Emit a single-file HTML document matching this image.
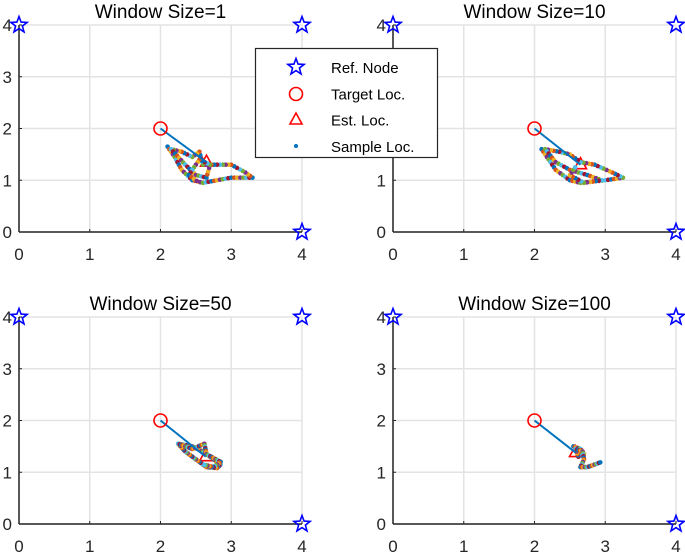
<!DOCTYPE html>
<html><head><meta charset="utf-8"><style>
body{margin:0;background:#fff;}
svg{display:block;font-family:"Liberation Sans",Arial,sans-serif;}
</style></head><body>
<svg id="c" width="685" height="554" xmlns="http://www.w3.org/2000/svg"></svg>
<script>
const titles=["Window Size=1","Window Size=10","Window Size=50","Window Size=100"];
const ticks=[0,1,2,3,4];
const refNodes=[[0,4],[4,4],[4,0]];
const target=[2,2];
const estimates=[[2.65,1.35],[2.65,1.3],[2.64,1.3],[2.58,1.38]];
const path1=[[2.1,1.65],[2.2,1.45],[2.3,1.2],[2.45,1.0],[2.6,0.95],[2.8,1.0],[3.0,1.05],[3.3,1.05],[3.2,1.15],[3.0,1.3],[2.8,1.3],[2.6,1.3],[2.55,1.55],[2.45,1.45],[2.3,1.55],[2.15,1.6],[2.35,1.3],[2.5,1.1],[2.65,1.05],[2.7,1.3],[2.55,1.4],[2.4,1.1],[2.55,0.95]];
const path2=[[2.1,1.6],[2.2,1.4],[2.3,1.2],[2.5,1.0],[2.65,0.95],[3.0,1.0],[3.25,1.05],[3.1,1.15],[2.85,1.3],[2.65,1.35],[2.5,1.5],[2.35,1.55],[2.15,1.6],[2.3,1.35],[2.5,1.2],[2.75,1.1],[2.95,1.0],[2.7,0.95],[2.5,1.1],[2.6,1.3]];
const path3=[[2.25,1.55],[2.45,1.5],[2.6,1.4],[2.75,1.25],[2.85,1.15],[2.8,1.08],[2.65,1.1],[2.5,1.25],[2.35,1.4],[2.25,1.55],[2.45,1.45],[2.62,1.55],[2.65,1.35],[2.85,1.2],[2.75,1.1],[2.6,1.15]];
const path4=[[2.55,1.5],[2.65,1.45],[2.7,1.35],[2.62,1.3],[2.58,1.45],[2.68,1.4],[2.7,1.25],[2.65,1.1],[2.75,1.1],[2.95,1.2]];
const paths=[path1,path2,path3,path4];
const colors=["#0072BD","#D95319","#EDB120","#7E2F8E","#77AC30","#4DBEEE","#A2142F"];
const origins=[[19,232],[393,232],[19,524],[393,524]];
const SX=70.75,SY=51.75;
const svg=document.getElementById('c');
const NS="http://www.w3.org/2000/svg";
function mk(t,a,p){const e=document.createElementNS(NS,t);for(const k in a)e.setAttribute(k,a[k]);(p||svg).appendChild(e);return e;}
function star(cx,cy,g){let pts=[];for(let i=0;i<10;i++){const r=i%2?3.6:8.5,a=-Math.PI/2+i*Math.PI/5;pts.push((cx+r*Math.cos(a)).toFixed(1)+","+(cy+r*Math.sin(a)).toFixed(1));}
const e=mk('polygon',{points:pts.join(' '),fill:'none',stroke:'#0000FF','stroke-width':1.6},g);return e;}
for(let p=0;p<4;p++){
 const [ox,oy]=origins[p];
 const X=v=>ox+v*SX, Y=v=>oy-v*SY;
 const g=mk('g',{});
 
 
 ticks.forEach(t=>{
  const gx=mk('line',{x1:X(t),x2:X(t),y1:Y(0),y2:Y(4),stroke:'#e3e3e3','stroke-width':1.5},g);
  
  const gy=mk('line',{x1:X(0),x2:X(4),y1:Y(t),y2:Y(t),stroke:'#e3e3e3','stroke-width':1.5},g);
  
  const tx=mk('text',{x:X(t),y:oy+28,'text-anchor':'middle','font-size':17,fill:'#262626'},g);tx.textContent=t;
  
  const ty=mk('text',{x:ox-7,y:Y(t)+6,'text-anchor':'end','font-size':17,fill:'#262626'},g);ty.textContent=t;
  
  mk('line',{x1:X(t),x2:X(t),y1:Y(0),y2:Y(0)-3,stroke:'#262626'},g);
  mk('line',{x1:X(0),x2:X(0)+3,y1:Y(t),y2:Y(t),stroke:'#262626'},g);
 });
 const ax=mk('line',{x1:X(0),x2:X(4),y1:Y(0),y2:Y(0),stroke:'#262626','stroke-width':1.5},g);
 
 const ay=mk('line',{x1:X(0),x2:X(0),y1:Y(0),y2:Y(4),stroke:'#262626','stroke-width':1.5},g);
 
 const ti=mk('text',{x:X(2),y:oy-214,'text-anchor':'middle','font-size':19,fill:'#000'},g);ti.textContent=titles[p];
 
 const [ex,ey]=estimates[p];
 const tr=mk('polygon',{points:`${X(ex)},${Y(ey)-7} ${X(ex)-6},${Y(ey)+4} ${X(ex)+6},${Y(ey)+4}`,fill:'none',stroke:'#FF0000','stroke-width':1.6},g);
 
 // samples
 const pts=paths[p];let ci=0;
 for(let i=0;i<pts.length-1;i++){
  const x1=X(pts[i][0]),y1=Y(pts[i][1]),x2=X(pts[i+1][0]),y2=Y(pts[i+1][1]);
  const n=Math.max(1,Math.round(Math.hypot(x2-x1,y2-y1)/(p>=2?1.5:3)));
  for(let k=0;k<n;k++){const f=k/n;
   const d=mk('circle',{cx:x1+(x2-x1)*f,cy:y1+(y2-y1)*f,r:2.3,fill:colors[ci++%colors.length]},g);
   }
 }
 const ln=mk('line',{x1:X(target[0]),y1:Y(target[1]),x2:X(ex),y2:Y(ey),stroke:'#0072BD','stroke-width':2},g);
 
 const tc=mk('circle',{cx:X(target[0]),cy:Y(target[1]),r:6.5,fill:'none',stroke:'#FF0000','stroke-width':1.6},g);
 
 refNodes.forEach(r=>{const s=star(X(r[0]),Y(r[1]),g);
  });
}
// legend
const lg=mk('g',{});


mk('rect',{x:255.5,y:48.5,width:182,height:109,fill:'#fff',stroke:'#262626','stroke-width':1.2},lg);
star(296,67,lg);
mk('circle',{cx:296,cy:94,r:6.5,fill:'none',stroke:'#FF0000','stroke-width':1.6},lg);
mk('polygon',{points:'296,113 290,124 302,124',fill:'none',stroke:'#FF0000','stroke-width':1.6},lg);
mk('circle',{cx:296,cy:146,r:2,fill:'#0072BD'},lg);
["Ref. Node","Target Loc.","Est. Loc.","Sample Loc."].forEach((t,i)=>{
 const e=mk('text',{x:331,y:73+i*26.3,'font-size':15,fill:'#000'},lg);e.textContent=t;
 
});
</script>
</body></html>
